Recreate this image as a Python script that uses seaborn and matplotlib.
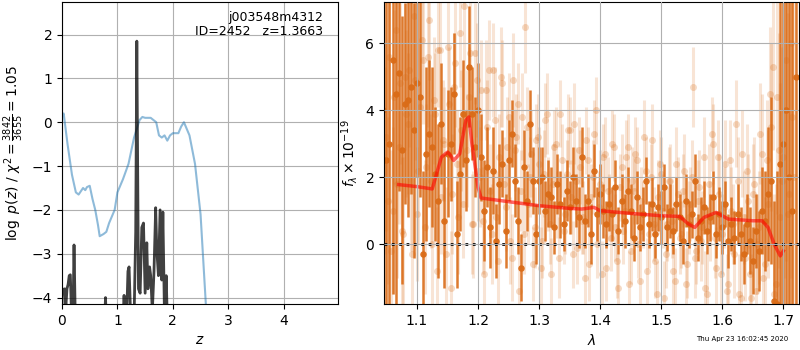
import numpy as np
import pandas as pd
import seaborn as sns
import matplotlib
matplotlib.use("Agg")
import matplotlib.pyplot as plt

# redshift fit: log p(z) and scaled chi2 curve
z_pz = [0.00, 0.01, 0.03, 0.05, 0.07, 0.09, 0.11, 0.13, 0.15, 0.17, 0.20, 0.217, 0.24,
        0.77, 0.785, 0.80, 1.10, 1.12, 1.14, 1.17, 1.19, 1.21, 1.24, 1.30, 1.33, 1.35,
        1.365, 1.38, 1.41, 1.44, 1.47, 1.50, 1.53, 1.55, 1.58, 1.60, 1.63, 1.66, 1.69,
        1.71, 1.74, 1.77, 1.80, 1.82, 1.85, 1.88, 1.90, 1.93, 1.96]
logpz = [-4.2, -3.8, -3.85, -3.8, -4.2, -3.8, -3.7, -3.5, -3.48, -4.3, -4.3, -2.8, -4.5,
         -4.5, -4.0, -4.5, -4.5, -3.95, -4.5, -4.3, -3.4, -3.3, -4.5, -4.5, -2.5, 1.85,
         -1.0, -3.8, -3.9, -2.4, -2.3, -3.9, -2.75, -3.8, -3.3, -3.5, -4.3, -3.4, -1.95,
         -2.9, -3.5, -2.0, -3.6, -2.05, -4.5, -3.5, -4.5, -4.5, -4.5]

z_chi = [0.00, 0.03, 0.10, 0.18, 0.25, 0.30, 0.38, 0.42, 0.45, 0.50, 0.55, 0.60, 0.65,
         0.68, 0.75, 0.80, 0.85, 0.95, 1.00, 1.10, 1.20, 1.30, 1.40, 1.45, 1.50, 1.60,
         1.70, 1.75, 1.80, 1.85, 1.90, 1.95, 2.00, 2.10, 2.15, 2.20, 2.25, 2.30, 2.40,
         2.50, 2.60]
chi_scaled = [0.15, 0.2, -0.5, -1.2, -1.6, -1.65, -1.5, -1.55, -1.48, -1.45, -1.75, -2.0,
              -2.35, -2.6, -2.55, -2.5, -2.3, -2.0, -1.6, -1.3, -0.95, -0.35, 0.05, 0.12,
              0.1, 0.1, 0.0, -0.3, -0.35, -0.3, -0.42, -0.3, -0.25, -0.25, -0.1, 0.0,
              -0.15, -0.3, -0.95, -2.1, -4.25]

# spectrum: binned (dark) points on a regular pixel grid
wave_dark = np.round(np.arange(1.045, 1.7201, 0.005), 4)
flux_dark = [4.0, 2.5, 3.0, 5.5, 4.5,
             5.1, 2.8, 4.2, 4.3, 4.7, 3.4, 4.8, 4.4, -0.3, 2.7,
             3.3, 2.9, 2.1, 1.3, 3.6, 0.7, 2.7, 3.0, 4.5, 0.3,
             2.1, 3.9, 2.5, 5.3, 3.9, 2.9, 4.0, 2.6, 1.0, 2.3,
             0.5, 2.2, 0.1, 1.8, 2.4, 0.4, 2.5, 3.3, 1.9, 0.7,
             -0.7, 2.3, 1.3, 3.6, 1.9, 0.3, 1.9, 2.0, 1.0, 1.5,
             1.4, 0.5, 1.8, 1.2, 0.6, 1.6, 1.1, 2.0, 1.3, 0.8,
             2.6, 0.7, 1.3, 0.3, 2.2, 0.9, 1.5, 1.0, 0.6, 1.2,
             0.9, 1.7, 0.4, 1.3, 0.7, 1.6, 1.0, 0.2, 1.4, 0.5,
             0.9, 1.9, 0.6, 1.2, 0.3, 1.1, 0.8, 1.7, 0.5, 1.0,
             0.4, 1.2, 0.8, 0.1, 1.3, 0.6, 0.9, 1.9, 0.2, 0.7,
             1.1, 0.4, 0.8, 1.4, 0.3, 0.9, 0.5, 1.2, 0.1, 0.6,
             0.2, 0.9, 0.3, -0.3, 0.6, 0.1, -0.5, 0.4, -0.2, 1.0,
             0.7, 1.5, 1.9, -1.7, -1.8, 2.4, 3.0, 4.0, 2.0, 1.0, 5.0]
err_dark = [6, 8, 9, 7, 8,
            3.5, 4.0, 3.0, 3.5, 3.2, 3.8, 2.8, 3.0, 2.5, 2.6,
            2.2, 2.4, 2.0, 2.3, 1.8, 2.0, 1.9, 1.7, 1.8, 1.6,
            1.7, 1.6, 1.5, 1.8, 1.4, 1.5, 1.4, 1.3, 1.5, 1.2,
            1.2, 1.3, 1.1, 1.2, 1.0, 1.1, 1.2, 1.0, 1.1, 1.0,
            1.0, 1.1, 0.9, 1.0, 1.0, 0.9, 1.0, 0.9, 0.9, 1.0,
            0.9, 0.8, 0.9, 1.0, 0.8, 0.9, 0.8, 0.9, 0.8, 0.9,
            0.9, 0.8, 0.8, 0.9, 0.8, 0.8, 0.9, 0.8, 0.7, 0.8,
            0.8, 0.8, 0.7, 0.8, 0.8, 0.7, 0.8, 0.7, 0.8, 0.7,
            0.8, 0.7, 0.7, 0.8, 0.7, 0.7, 0.8, 0.7, 0.7, 0.8,
            0.7, 0.8, 0.7, 0.7, 0.8, 0.7, 0.7, 0.8, 0.7, 0.7,
            0.8, 0.7, 0.7, 0.8, 0.7, 0.8, 0.8, 0.7, 0.8, 0.8,
            0.8, 0.9, 0.8, 0.9, 0.9, 1.0, 1.0, 1.1, 1.2, 1.3,
            1.5, 2.0, 2.5, 3.0, 4.0, 5.0, 6.0, 7.0, 8.0, 8.0, 8.0]

# individual beam (light) points, two beams offset from the binned grid
wave_light_a = np.round(np.arange(1.0475, 1.7176, 0.005), 4)
flux_light_a = [2.5, 1.3, -0.2, 4.4, 1.8,
                4.8, 0.3, 3.9, 5.2, -0.3, 4.9, 2.2, 6.1, 0.5, 5.6,
                1.9, 4.3, -0.8, 5.8, 3.1, -0.3, 4.2, 1.5, 5.4, 0.8,
                3.4, 7.1, 2.8, 5.7, 0.6, 4.9, 2.0, 0.7, 4.6, 5.2,
                0.3, 3.7, -0.5, 5.0, 1.8, 2.9, 0.1, 4.9, 3.2, -1.4,
                3.8, 6.5, 1.2, 2.7, 0.5, 3.2, -0.7, 2.1, 3.9, 0.6,
                1.8, 3.0, -0.4, 2.5, 0.9, 3.4, 1.4, 3.6, -0.1, 2.3,
                0.8, 3.1, -0.6, 2.0, 4.0, 1.1, -0.9, 2.7, 1.6, 0.2,
                2.9, -0.5, 1.7, 0.4, 2.6, -1.2, 1.9, 2.7, 0.0, 1.3,
                3.2, -0.8, 2.0, 0.6, -1.5, 2.4, 1.0, -0.3, 1.9, 0.7,
                -1.1, 1.5, 0.3, 2.2, -0.6, 1.2, 4.7, -0.2, 1.7, 0.5,
                -1.3, 1.8, 3.3, 0.2, 2.6, -0.9, 1.1, -1.4, 2.5, 0.6,
                3.6, -1.5, 2.7, -0.4, 1.3, -1.6, 1.8, 0.0, 3.3, -1.0,
                2.5, 4.5, 5.3, -1.2, 2.8, 1.9, 4.0, 0.9, 6.0, 2.0]
err_light_a = [2.8, 2.5, 3.0, 2.6, 2.8,
               2.4, 2.3, 2.5, 2.3, 2.1, 2.4, 2.2, 2.1, 2.0, 2.1,
               2.0, 1.9, 1.9, 2.1, 1.8, 2.0, 1.7, 1.8, 1.9, 1.7,
               1.8, 1.9, 1.7, 1.8, 1.6, 1.7, 1.5, 1.6, 1.5, 1.5,
               1.5, 1.6, 1.4, 1.5, 1.4, 1.5, 1.3, 1.4, 1.3, 1.4,
               1.3, 1.4, 1.2, 1.3, 1.2, 1.3, 1.2, 1.3, 1.2, 1.2,
               1.2, 1.1, 1.2, 1.1, 1.2, 1.1, 1.1, 1.2, 1.1, 1.1,
               1.1, 1.0, 1.1, 1.1, 1.0, 1.1, 1.0, 1.1, 1.0, 1.0,
               1.0, 1.1, 1.0, 1.0, 1.1, 1.0, 1.0, 1.1, 1.0, 1.0,
               1.1, 1.0, 1.0, 1.1, 1.0, 1.0, 1.1, 1.0, 1.0, 1.1,
               1.0, 1.1, 1.0, 1.1, 1.0, 1.1, 1.2, 1.0, 1.1, 1.1,
               1.1, 1.2, 1.1, 1.2, 1.1, 1.2, 1.2, 1.1, 1.2, 1.2,
               1.3, 1.2, 1.3, 1.3, 1.4, 1.3, 1.4, 1.5, 1.5, 1.6,
               1.8, 2.0, 2.5, 3.0, 3.5, 4.0, 5.0, 6.0, 7.0, 8.0]

wave_light_b = np.round(np.arange(1.050, 1.7151, 0.005), 4)
flux_light_b = [3.2, 5.6, 1.0, 6.4, 2.9, 0.4, 5.0, 3.6, 1.9, 6.8,
                0.9, 4.1, 5.5, 2.3, 6.7, 0.0, 3.9, 5.8, 1.4, 3.0,
                5.9, -1.3, 4.7, 2.4, 6.3, 1.2, 3.6, 4.4, 0.6, 5.7,
                2.2, 4.6, -0.9, 3.5, 1.6, 5.2, 0.8, 2.6, 4.8, 1.1,
                3.8, -0.4, 2.8, 4.2, 1.6, 0.3, 3.5, 2.0, -0.6, 3.1,
                2.4, 0.1, 3.7, 1.5, -0.9, 2.9, 1.2, 3.9, 0.4, 2.1,
                3.4, -0.3, 1.9, 2.8, 0.7, -1.0, 2.5, 1.4, 3.3, 0.0,
                1.8, 2.6, -0.7, 1.1, 3.0, 0.5, -1.3, 2.3, 1.0, 2.9,
                -0.2, 1.6, 2.5, -1.1, 0.9, 2.2, 0.3, 3.1, -0.5, 1.4,
                2.1, -1.6, 0.6, 1.9, -0.8, 2.4, 0.2, 1.6, -1.2, 0.8,
                2.0, -0.4, 1.3, 0.1, 2.6, -1.5, 0.7, 3.0, -0.7, 1.5,
                0.3, 2.4, -1.2, 1.0, -0.3, 1.9, -1.6, 0.8, 2.2, -0.9,
                1.5, -1.4, 0.5, 2.7, -0.6, 1.2, 3.5, -1.5, 4.4, 0.8, 2.6, 5.5, 1.5, 3.8]
err_light_b = [2.8, 2.6, 2.5, 2.4, 2.3, 2.2, 2.2, 2.1, 2.1, 2.0,
               2.0, 1.9, 1.9, 1.9, 1.8, 1.8, 1.8, 1.7, 1.7, 1.7,
               1.7, 1.7, 1.6, 1.6, 1.6, 1.6, 1.6, 1.5, 1.5, 1.5,
               1.5, 1.5, 1.5, 1.4, 1.4, 1.4, 1.4, 1.3, 1.3, 1.3,
               1.3, 1.3, 1.2, 1.2, 1.2, 1.2, 1.2, 1.2, 1.1, 1.1,
               1.1, 1.1, 1.1, 1.1, 1.1, 1.1, 1.0, 1.0, 1.0, 1.0,
               1.0, 1.0, 1.0, 1.0, 1.0, 1.0, 1.0, 1.0, 1.0, 1.0,
               1.0, 1.0, 1.0, 1.0, 1.0, 1.0, 1.0, 1.0, 1.0, 1.0,
               1.0, 1.0, 1.0, 1.0, 1.0, 1.0, 1.0, 1.1, 1.1, 1.1,
               1.1, 1.1, 1.1, 1.1, 1.1, 1.1, 1.1, 1.1, 1.1, 1.1,
               1.1, 1.2, 1.2, 1.2, 1.2, 1.2, 1.2, 1.2, 1.2, 1.2,
               1.2, 1.3, 1.3, 1.3, 1.3, 1.3, 1.4, 1.4, 1.4, 1.5,
               1.5, 1.6, 1.7, 1.8, 2.0, 2.2, 2.5, 3.0, 3.5, 4.0, 5.0, 6.0, 7.0, 8.0]

# best-fit model
wave_model = [1.07, 1.10, 1.125, 1.14, 1.15, 1.155, 1.16, 1.17, 1.18, 1.185, 1.19, 1.20,
              1.205, 1.25, 1.30, 1.35, 1.37, 1.39, 1.40, 1.45, 1.50, 1.53, 1.545, 1.555,
              1.57, 1.59, 1.61, 1.65, 1.665, 1.675, 1.685, 1.695, 1.70]
flux_model = [1.78, 1.72, 1.65, 2.6, 2.75, 2.65, 2.5, 2.7, 3.7, 3.8, 3.0, 1.7,
              1.38, 1.27, 1.15, 1.07, 1.05, 1.1, 1.0, 0.92, 0.85, 0.83, 0.6, 0.5,
              0.8, 0.95, 0.75, 0.7, 0.7, 0.5, 0.0, -0.35, -0.2]

label_text = "j003548m4312\nID=2452   z=1.3663"
stamp = "Thu Apr 23 16:02:45 2020"

orange = "#da6c18"

fig = plt.figure(figsize=(8, 3.5), dpi=100)
ax1 = fig.add_axes([0.0775, 0.131, 0.345, 0.863])
ax2 = fig.add_axes([0.48, 0.131, 0.519, 0.863])

# left panel
sns.lineplot(x=z_chi, y=chi_scaled, ax=ax1, color="tab:blue", alpha=0.5, lw=1.5, sort=False)
sns.lineplot(x=z_pz, y=logpz, ax=ax1, color="k", alpha=0.75, lw=2, sort=False)
ax1.set_xlim(0, 4.98)
ax1.set_ylim(-4.15, 2.74)
ax1.grid(True)
ax1.set_xlabel("$z$")
ax1.set_ylabel(r"$\log\ p(z)$ / $\chi^2=\frac{3842}{3655}=1.05$")
ax1.text(0.945, 0.97, label_text, ha="right", va="top", transform=ax1.transAxes,
         fontsize=9, linespacing=1.1)

# right panel
for wl, fl, el in [(wave_light_a, flux_light_a, err_light_a),
                   (wave_light_b, flux_light_b, err_light_b)]:
    ax2.errorbar(wl, fl, yerr=el, fmt="none", ecolor=orange, alpha=0.18, elinewidth=2.2)
    sns.scatterplot(x=wl, y=fl, ax=ax2, color=orange, alpha=0.25, s=25, linewidth=0)
ax2.errorbar(wave_dark, flux_dark, yerr=err_dark, fmt="none", ecolor=orange,
             alpha=0.9, elinewidth=1.8)
sns.scatterplot(x=wave_dark, y=flux_dark, ax=ax2, color=orange, alpha=0.95, s=22,
                linewidth=0)
sns.lineplot(x=wave_model, y=flux_model, ax=ax2, color="red", alpha=0.6, lw=2.5, sort=False)
ax2.axhline(0, color="k", linestyle=":", lw=2)
ax2.set_xlim(1.046, 1.726)
ax2.set_ylim(-1.79, 7.23)
ax2.grid(True)
ax2.set_axisbelow(False)
ax2.set_xlabel(r"$\lambda$")
ax2.set_ylabel(r"$f_\lambda \times 10^{-19}$")

fig.text(0.985, 0.03, stamp, ha="right", va="center", fontsize=5)

fig.savefig("out.png", dpi=100)
